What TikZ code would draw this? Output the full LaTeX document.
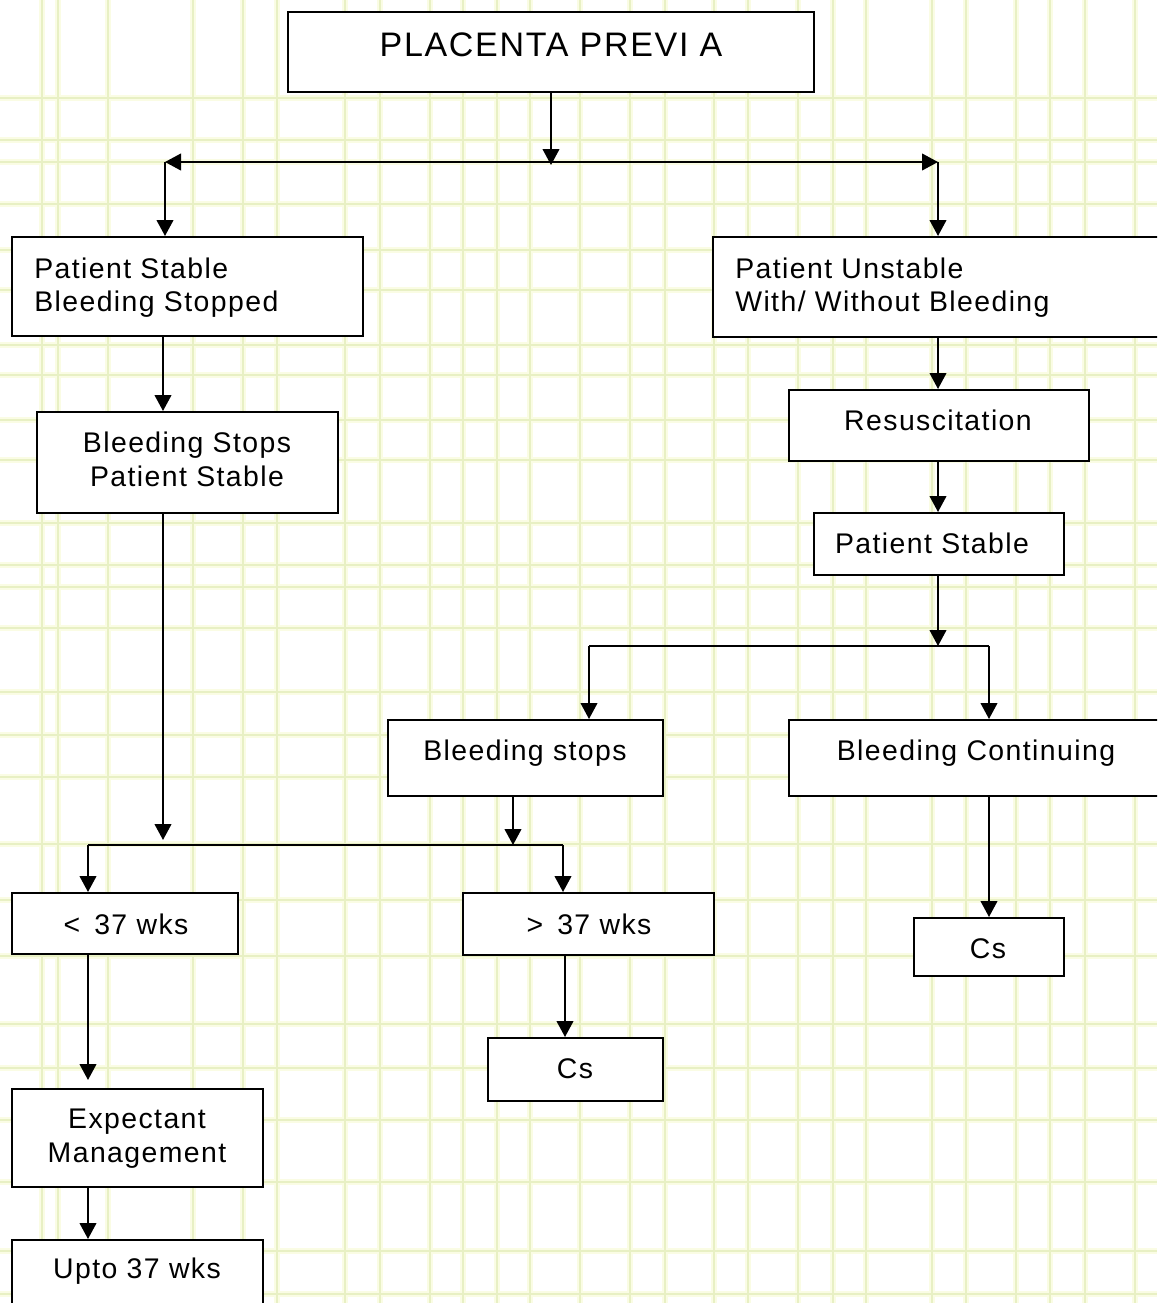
\documentclass[tikz,border=0pt]{standalone}
\usepackage{fontspec}
\setmainfont{Liberation Sans}[LetterSpace=5]
\usetikzlibrary{arrows.meta,fit}
\definecolor{gridhalo}{RGB}{250,252,228}
\definecolor{gridline}{RGB}{232,240,196}
\tikzset{
  box/.style={draw=black, line width=1.5pt, fill=white, inner sep=0pt},
  txt/.style={inner sep=0pt, anchor=base, font=\fontsize{21.3}{25}\selectfont},
  ltxt/.style={txt, anchor=base west},
  conn/.style={draw=black, line width=1.5pt},
  arr/.style={conn, -{Triangle[length=12pt,width=12.5pt]}},
  dbl/.style={conn, {Triangle[length=12pt,width=12.5pt]}-{Triangle[length=12pt,width=12.5pt]}},
}
\begin{document}
\begin{tikzpicture}[x=0.75pt,y=-0.75pt]
\useasboundingbox (0,0) rectangle (1157,1303);
\clip (0,0) rectangle (1157,1303);
\fill[white] (0,0) rectangle (1157,1303);
% background grid
\foreach \gx in {42,58,108,193,243,277,345,380,430,463,497,530,580,630,665,714,748,798,833,866,932,966,1016,1050,1085,1135}{
  \draw[gridhalo, line width=4pt] (\gx,0) -- (\gx,1303);
}
\foreach \gy in {98,140,162,204,250,290,345,375,420,460,523,565,587,628,692,735,777,844,900,956,1024,1068,1120,1182,1251,1294}{
  \draw[gridhalo, line width=4pt] (0,\gy) -- (1157,\gy);
}
\foreach \gx in {42,58,108,193,243,277,345,380,430,463,497,530,580,630,665,714,748,798,833,866,932,966,1016,1050,1085,1135}{
  \draw[gridline, line width=0.8pt] (\gx,0) -- (\gx,1303);
}
\foreach \gy in {98,140,162,204,250,290,345,375,420,460,523,565,587,628,692,735,777,844,900,956,1024,1068,1120,1182,1251,1294}{
  \draw[gridline, line width=0.8pt] (0,\gy) -- (1157,\gy);
}

% boxes
\node[box, fit={(288,12) (814,92)}] (pp) {};
\node[box, fit={(12,237) (363,336)}] (ps) {};
\node[box, fit={(713,237) (1162,337)}] (pu) {};
\node[box, fit={(37,412) (338,513)}] (bs) {};
\node[box, fit={(789,390) (1089,461)}] (res) {};
\node[box, fit={(814,513) (1064,575)}] (pst) {};
\node[box, fit={(388,720) (663,796)}] (bst) {};
\node[box, fit={(789,720) (1162,796)}] (bc) {};
\node[box, fit={(12,893) (238,954)}] (lt) {};
\node[box, fit={(463,893) (714,955)}] (gt) {};
\node[box, fit={(914,918) (1064,976)}] (cs1) {};
\node[box, fit={(488,1038) (663,1101)}] (cs2) {};
\node[box, fit={(12,1089) (263,1187)}] (em) {};
\node[box, fit={(12,1240) (263,1310)}] (up) {};

% texts
\node[txt, font=\fontsize{25.5}{30}\selectfont] (ppt) at (551,56) {PLACENTA PREVI A};
\node[ltxt] (pst1) at (34,278) {Patient Stable};
\node[ltxt] (pst2) at (34,311) {Bleeding Stopped};
\node[ltxt] (put1) at (735,278) {Patient Unstable};
\node[ltxt] (put2) at (735,311) {With/ Without Bleeding};
\node[txt] (bst1) at (187,452) {Bleeding Stops};
\node[txt] (bst2) at (187,486) {Patient Stable};
\node[txt] (rest) at (938,430) {Resuscitation};
\node[txt] (pstt) at (932,553) {Patient Stable};
\node[txt] (bstt) at (525,760) {Bleeding stops};
\node[txt] (bct) at (976,760) {Bleeding Continuing};
\node[txt] (ltt) at (126,934) {<\, 37 wks};
\node[txt] (gtt) at (589,934) {>\, 37 wks};
\node[txt] (cs1t) at (988,958) {Cs};
\node[txt] (cs2t) at (575,1078) {Cs};
\node[txt] (emt1) at (137,1128) {Expectant};
\node[txt] (emt2) at (137,1162) {Management};
\node[txt] (upt) at (137,1278) {Upto 37 wks};

% junction coordinates
\coordinate (jt) at (551,165);
\coordinate (hl) at (165,162);
\coordinate (hr) at (938,162);
\coordinate (c1) at (163,0);
\coordinate (jl) at (163,840);
\coordinate (jm) at (513,845);
\coordinate (h2l) at (88,845);
\coordinate (h2r) at (563,845);
\coordinate (c2) at (938,0);
\coordinate (j3) at (938,646);
\coordinate (h3l) at (589,646);
\coordinate (h3r) at (989,646);
\coordinate (c3) at (565,0);
\coordinate (e1) at (88,1080);

% connectors
\draw[arr] (pp.south) -- (jt);
\draw[dbl] (hl) -- (hr);
\draw[arr] (hl) -- (hl |- ps.north);
\draw[arr] (hr) -- (hr |- pu.north);
\draw[arr] (ps.south -| c1) -- (bs.north -| c1);
\draw[arr] (bs.south -| c1) -- (jl);
\draw[arr] (pu.south -| c2) -- (res.north -| c2);
\draw[arr] (res.south -| c2) -- (pst.north -| c2);
\draw[arr] (pst.south -| c2) -- (j3);
\draw[conn] (h3l) -- (h3r);
\draw[arr] (h3l) -- (h3l |- bst.north);
\draw[arr] (h3r) -- (h3r |- bc.north);
\draw[arr] (bst.south -| jm) -- (jm);
\draw[conn] (h2l) -- (h2r);
\draw[arr] (h2l) -- (h2l |- lt.north);
\draw[arr] (h2r) -- (h2r |- gt.north);
\draw[arr] (bc.south -| h3r) -- (cs1.north -| h3r);
\draw[arr] (gt.south -| c3) -- (cs2.north -| c3);
\draw[arr] (lt.south -| e1) -- (e1);
\draw[arr] (em.south -| e1) -- (up.north -| e1);
\end{tikzpicture}
\end{document}
